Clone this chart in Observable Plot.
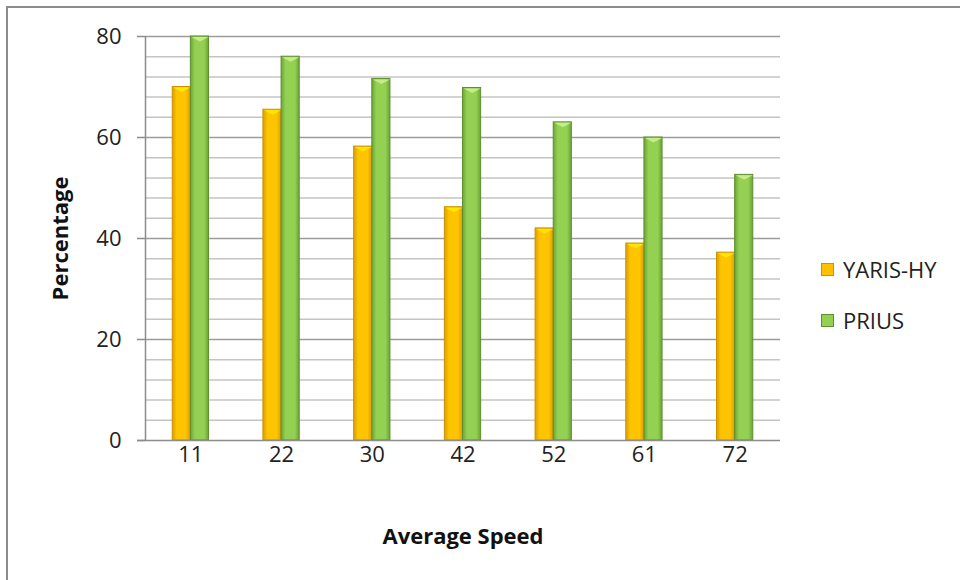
<!DOCTYPE html>
<html>
<head>
<meta charset="utf-8">
<script src="https://cdn.jsdelivr.net/npm/d3@7"></script>
<script src="https://cdn.jsdelivr.net/npm/@observablehq/plot@0.6"></script>
<style>
  html, body { margin: 0; padding: 0; background: #fff; }
  #wrap { position: relative; width: 960px; height: 580px; overflow: hidden; font-family: "Open Sans", sans-serif; }
  #frame { position: absolute; left: 6px; top: 6px; width: 980px; height: 600px; border: 2px solid #8c8c8c; box-sizing: border-box; }
  #chart { position: absolute; left: 0; top: 0; }
  #legend { position: absolute; left: 821px; top: 253px; font-size: 22px; color: #222; }
  .item { display: flex; align-items: center; height: 32px; margin-bottom: 19px; }
  .sw { width: 13px; height: 13px; margin-right: 9px; box-sizing: border-box; }
</style>
</head>
<body>
<div id="wrap">
  <div id="frame"></div>
  <div id="chart"></div>
  <div id="legend"></div>
</div>
<script>
const speeds = ["11", "22", "30", "42", "52", "61", "72"];
const series = ["YARIS-HY", "PRIUS"];
const yarisValues = [70, 65.5, 58.2, 46.2, 42, 39, 37.2];
const priusValues = [80, 76, 71.6, 69.8, 63, 60, 52.6];
const yTicks = [0, 20, 40, 60, 80];
const gridTicks = d3.range(0, 81, 4);

const yarisData = speeds.map((s, i) => ({speed: s, series: "YARIS-HY", value: yarisValues[i]}));
const priusData = speeds.map((s, i) => ({speed: s, series: "PRIUS", value: priusValues[i]}));

const width = 960, height = 580;
const mL = 145, mR = 180, mT = 36, mB = 140;
const step = (width - mL - mR) / speeds.length;
const half = step * 0.4 / 2;

// flat downward-pointing bevel on top of each bar
const bevel = {
  draw(ctx) {
    const w = half - 1, h = 5;
    ctx.moveTo(-w / 2, 0.5);
    ctx.lineTo(w / 2, 0.5);
    ctx.lineTo(0, h);
    ctx.closePath();
  }
};

const plot = Plot.plot({
  width, height,
  marginLeft: mL, marginRight: mR, marginTop: mT, marginBottom: mB,
  style: {fontFamily: "Open Sans, sans-serif", background: "transparent"},
  x: {domain: speeds, paddingInner: 0.6, paddingOuter: 0.3, round: false, axis: null},
  y: {domain: [0, 80], axis: null},
  marks: [
    Plot.ruleY(gridTicks.filter(t => t % 20 !== 0), {stroke: "#c4c4c4", strokeWidth: 1.5}),
    Plot.ruleY(yTicks.filter(t => t !== 0), {stroke: "#9c9c9c", strokeWidth: 1.5}),
    Plot.barY(yarisData, {
      x: "speed", y: "value", fill: "url(#gY)", stroke: "#c99400", strokeWidth: 1, insetRight: half
    }),
    Plot.barY(priusData, {
      x: "speed", y: "value", fill: "url(#gP)", stroke: "#5f8f2f", strokeWidth: 1, insetLeft: half
    }),
    Plot.dot(yarisData, {x: "speed", y: "value", dx: -half / 2, symbol: bevel, fill: "#ffe600", stroke: "none"}),
    Plot.dot(priusData, {x: "speed", y: "value", dx: half / 2, symbol: bevel, fill: "#c4ec8a", stroke: "none"}),
    Plot.ruleX([speeds[0]], {x: d => d, dx: -step / 2, y1: 0, y2: 80, stroke: "#8c8c8c", strokeWidth: 1.5}),
    Plot.ruleY([0], {stroke: "#8c8c8c", strokeWidth: 1.5, insetLeft: -8}),
    Plot.tickY(yTicks, {y: d => d, stroke: "#8c8c8c", strokeWidth: 1.5}),
    Plot.text(yTicks, {y: d => d, text: d => String(d), frameAnchor: "left", dx: -mL + 121, textAnchor: "end", fontSize: 22, fill: "#222"}),
    Plot.text(speeds, {x: d => d, text: d => d, frameAnchor: "bottom", lineAnchor: "middle", dy: 14, fontSize: 22, fill: "#222"}),
    Plot.text(["Average Speed"], {frameAnchor: "bottom", lineAnchor: "middle", dy: 96, text: d => d, fontSize: 22, fontWeight: "bold", fill: "#111"}),
    Plot.text(["Percentage"], {frameAnchor: "left", dx: -85, rotate: -90, textAnchor: "middle", text: d => d, fontSize: 22, fontWeight: "bold", fill: "#111"})
  ]
});

// Gradients for the bars
const defs = d3.select(plot).insert("defs", ":first-child");
function grad(id, stops) {
  const g = defs.append("linearGradient").attr("id", id).attr("x1", "0%").attr("x2", "100%").attr("y1", "0%").attr("y2", "0%");
  stops.forEach(([o, c]) => g.append("stop").attr("offset", o).attr("stop-color", c));
}
grad("gY", [["0%", "#dc9e00"], ["25%", "#ffc400"], ["75%", "#ffc400"], ["100%", "#dc9e00"]]);
grad("gP", [["0%", "#6ba436"], ["25%", "#94d152"], ["75%", "#94d152"], ["100%", "#6ba436"]]);

// y tick marks extend to the left of the axis
d3.select(plot).selectAll("[aria-label=tick] line").attr("x1", mL - 8).attr("x2", mL);

document.getElementById("chart").appendChild(plot);

const legend = document.getElementById("legend");
const swatch = {"YARIS-HY": ["#ffc000", "#c99400"], "PRIUS": ["#92d050", "#5f8f2f"]};
series.forEach(s => {
  const it = document.createElement("div");
  it.className = "item";
  const sw = document.createElement("div");
  sw.className = "sw";
  sw.style.background = swatch[s][0];
  sw.style.border = "1px solid " + swatch[s][1];
  const t = document.createElement("span");
  t.textContent = s;
  it.appendChild(sw); it.appendChild(t);
  legend.appendChild(it);
});
</script>
</body>
</html>
